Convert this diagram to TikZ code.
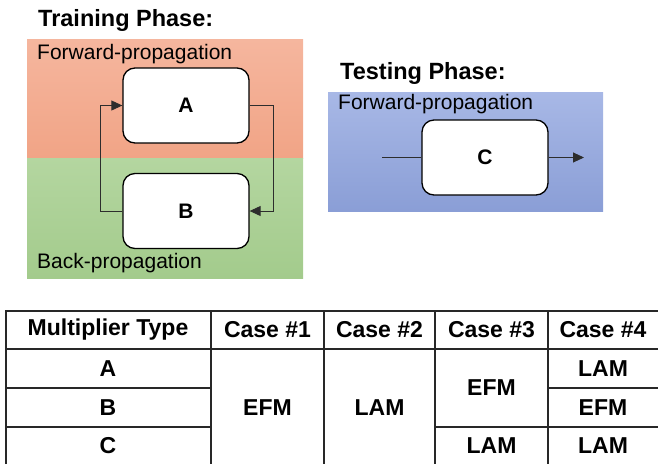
\documentclass[tikz,border=0pt]{standalone}
\usepackage{fontspec}
\setmainfont{Liberation Sans}
\usetikzlibrary{arrows.meta}

\definecolor{fwdtop}{RGB}{245,182,158}
\definecolor{fwdbot}{RGB}{241,164,134}
\definecolor{bwdtop}{RGB}{180,214,160}
\definecolor{bwdbot}{RGB}{163,203,140}
\definecolor{tsttop}{RGB}{168,184,230}
\definecolor{tstbot}{RGB}{138,158,214}
\definecolor{wire}{RGB}{45,45,45}
\definecolor{grid}{RGB}{40,40,40}

\tikzset{
  title/.style={anchor=west, inner sep=0pt, font=\fontsize{23.5}{26}\selectfont\bfseries},
  panellabel/.style={anchor=west, inner sep=0pt, font=\fontsize{21}{24}\selectfont},
  mult/.style={draw=black, line width=1.3pt, fill=white, rounded corners=12pt,
    minimum width=126pt, minimum height=75pt, inner sep=0pt,
    font=\fontsize{21}{24}\selectfont\bfseries},
  wireline/.style={draw=wire, line width=0.9pt},
  tip/.style={-{Triangle[length=11pt,width=10pt]}},
  cell/.style={inner sep=0pt, font=\fontsize{23}{26}\selectfont\bfseries},
  gridline/.style={draw=grid, line width=1.4pt},
}

\begin{document}
\begin{tikzpicture}[x=1pt,y=-1pt]
\useasboundingbox (0,0) rectangle (658,464);

% ---- training phase ----
\node[title] (trainTitle) at (38,20) {Training Phase:};
\shade[top color=fwdtop, bottom color=fwdbot] (27,39) rectangle (303,158);
\shade[top color=bwdtop, bottom color=bwdbot] (27,158) rectangle (303,278);
\node[panellabel] (fwdLabel) at (37,54) {Forward-propagation};
\node[panellabel] (bwdLabel) at (37,263) {Back-propagation};

\node[mult] (A) at (186,105.5) {A};
\node[mult] (B) at (186,211) {B};

\draw[wireline, tip] (B.west) -- ++(-22,0) |- (A.west);
\draw[wireline, tip] (A.east) -- ++(24,0) |- (B.east);

% ---- testing phase ----
\node[title] (testTitle) at (340,73) {Testing Phase:};
\shade[top color=tsttop, bottom color=tstbot] (328,92) rectangle (603,211);
\node[panellabel] (tstLabel) at (338,104) {Forward-propagation};

\node[mult] (C) at (485,157.5) {C};
\coordinate (cin) at (382,157.5);
\coordinate (cout) at (584,157.5);
\draw[wireline] (cin) -- (C.west);
\draw[wireline, tip] (C.east) -- (cout);

% ---- multiplier table ----
\draw[gridline] (6,464) -- (6,311) -- (658,311);
\draw[gridline] (6,349) -- (658,349);
\draw[gridline] (6,388) -- (211,388);
\draw[gridline] (548,388) -- (658,388);
\draw[gridline] (6,427) -- (211,427);
\draw[gridline] (435,427) -- (658,427);
\foreach \cx in {211,324,435,548} \draw[gridline] (\cx,311) -- (\cx,464);

\node[cell] (hType) at (108,330) {Multiplier Type};
\node[cell] (hOne) at (267.5,330) {Case \#1};
\node[cell] (hTwo) at (379.5,330) {Case \#2};
\node[cell] (hThree) at (491.5,330) {Case \#3};
\node[cell] (hFour) at (603,330) {Case \#4};

\node[cell] (rA) at (108,368.5) {A};
\node[cell] (rB) at (108,407.5) {B};
\node[cell] (rC) at (108,446) {C};

\node[cell] (oneAll) at (267.5,408) {EFM};
\node[cell] (twoAll) at (379.5,408) {LAM};
\node[cell] (threeAB) at (491.5,388) {EFM};
\node[cell] (threeC) at (491.5,446) {LAM};
\node[cell] (fourA) at (603,368.5) {LAM};
\node[cell] (fourB) at (603,407.5) {EFM};
\node[cell] (fourC) at (603,446) {LAM};
\end{tikzpicture}
\end{document}
